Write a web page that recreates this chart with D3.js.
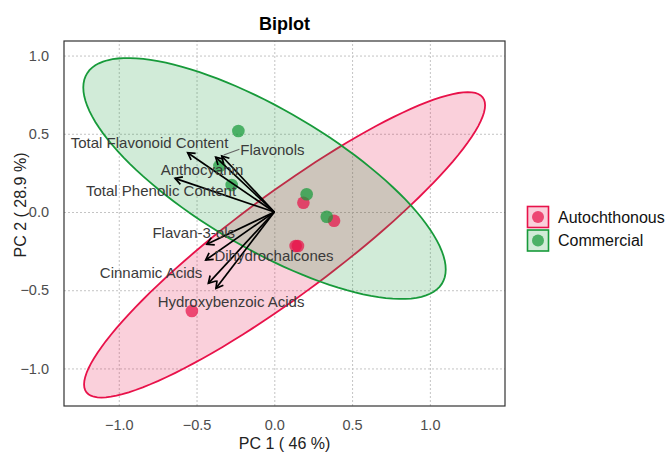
<!DOCTYPE html>
<html>
<head>
<meta charset="utf-8">
<script src="https://cdnjs.cloudflare.com/ajax/libs/d3/7.8.5/d3.min.js"></script>
<style>
  body { margin: 0; background: #fff; }
  text { font-family: "Liberation Sans", Arial, sans-serif; }
</style>
</head>
<body>
<div id="vis"></div>
<script>
// ---- data ----
const groups = ["Autochthonous", "Commercial"];
const groupColors = ["#E8124A", "#179A3A"];

// individuals (PC1, PC2)
const autoPoints = [[-0.53, -0.633], [0.187, 0.059], [0.384, -0.056], [0.137, -0.217], [0.152, -0.217]];
const commPoints = [[-0.231, 0.518], [-0.353, 0.294], [-0.274, 0.173], [0.208, 0.113], [0.337, -0.03]];

// concentration ellipses: centre x, centre y, half extent x, half extent y, correlation
const autoEllipse = [0.066, -0.21, 1.289, 0.976, 0.914];
const commEllipse = [-0.063, 0.214, 1.165, 0.770, -0.755];

// variables: arrow tip and label position
const varNames = ["Total Flavonoid Content", "Flavonols", "Anthocyanin", "Total Phenolic Content",
                  "Flavan-3-ols", "Dihydrochalcones", "Cinnamic Acids", "Hydroxybenzoic Acids"];
const varTips = [[-0.557, 0.379], [-0.338, 0.358], [-0.377, 0.35], [-0.638, 0.215],
                 [-0.434, -0.206], [-0.441, -0.307], [-0.424, -0.456], [-0.375, -0.488]];
const labelPos = [[-0.802, 0.443], [-0.012, 0.401], [-0.465, 0.273], [-0.728, 0.136],
                  [-0.518, -0.132], [-0.002, -0.275], [-0.792, -0.388], [-0.278, -0.573]];

const ticks = [-1.0, -0.5, 0.0, 0.5, 1.0];

const W = 667, H = 453;
const pLeft = 64, pRight = 505, pTop = 41, pBottom = 406;

const svg = d3.select("#vis").append("svg")
    .attr("width", W)
    .attr("height", H);

const x = d3.scaleLinear().domain([-1.352, 1.483]).range([pLeft, pRight]);
const y = d3.scaleLinear().domain([-1.24, 1.093]).range([pBottom, pTop]);

// grid
svg.append("g")
    .attr("transform", `translate(0,${pBottom})`)
    .call(d3.axisBottom(x).tickValues(ticks).tickSize(-(pBottom - pTop)).tickFormat(""))
    .call(g => g.select(".domain").remove())
    .call(g => g.selectAll("line").attr("stroke", "#c4c4c4").attr("stroke-dasharray", "2,2"));
svg.append("g")
    .attr("transform", `translate(${pLeft},0)`)
    .call(d3.axisLeft(y).tickValues(ticks).tickSize(-(pRight - pLeft)).tickFormat(""))
    .call(g => g.select(".domain").remove())
    .call(g => g.selectAll("line").attr("stroke", "#c4c4c4").attr("stroke-dasharray", "2,2"));

// ellipses
function ellipsePoints(e) {
  const [cx, cy, rx, ry, rho] = e;
  const s = Math.sqrt(1 - rho * rho);
  return d3.range(0, 360, 3).map(a => {
    const t = a * Math.PI / 180;
    return [cx + rx * Math.cos(t), cy + ry * (rho * Math.cos(t) + s * Math.sin(t))];
  });
}
const line = d3.line().x(d => x(d[0])).y(d => y(d[1])).curve(d3.curveLinearClosed);

[autoEllipse, commEllipse].forEach((e, i) => {
  svg.append("path")
      .attr("d", line(ellipsePoints(e)))
      .attr("fill", groupColors[i])
      .attr("fill-opacity", 0.2)
      .attr("stroke", groupColors[i])
      .attr("stroke-width", 1.8);
});

// points
[autoPoints, commPoints].forEach((pts, i) => {
  svg.append("g").selectAll("circle")
    .data(pts)
    .join("circle")
      .attr("cx", d => x(d[0]))
      .attr("cy", d => y(d[1]))
      .attr("r", 6.3)
      .attr("fill", groupColors[i])
      .attr("fill-opacity", 0.72);
});

// arrows
const arrows = svg.append("g").attr("stroke", "#000").attr("stroke-width", 1.7).attr("fill", "none");
varTips.forEach(d => {
  const x0 = x(0), y0 = y(0), x1 = x(d[0]), y1 = y(d[1]);
  const ang = Math.atan2(y1 - y0, x1 - x0);
  const L = 8, spread = Math.PI / 6;
  arrows.append("line").attr("x1", x0).attr("y1", y0).attr("x2", x1).attr("y2", y1);
  arrows.append("path").attr("d",
    `M${x1 - L * Math.cos(ang - spread)},${y1 - L * Math.sin(ang - spread)}L${x1},${y1}` +
    `L${x1 - L * Math.cos(ang + spread)},${y1 - L * Math.sin(ang + spread)}`);
});

// leader segment for Flavonols label
svg.append("line")
    .attr("x1", x(labelPos[1][0]) - 33).attr("y1", y(labelPos[1][1]))
    .attr("x2", x(varTips[1][0]) + 2).attr("y2", y(varTips[1][1]) - 1)
    .attr("stroke", "#666").attr("stroke-width", 1.2);

// labels
svg.append("g").selectAll("text")
  .data(varNames)
  .join("text")
    .attr("x", (d, i) => x(labelPos[i][0]))
    .attr("y", (d, i) => y(labelPos[i][1]))
    .attr("text-anchor", "middle")
    .attr("dominant-baseline", "central")
    .attr("font-size", 15)
    .attr("fill", "#3a3a3a")
    .text(d => d);

// frame
svg.append("rect")
    .attr("x", pLeft).attr("y", pTop)
    .attr("width", pRight - pLeft).attr("height", pBottom - pTop)
    .attr("fill", "none").attr("stroke", "#333").attr("stroke-width", 1.2);

// axes labels
svg.append("g")
    .attr("transform", `translate(0,${pBottom})`)
    .call(d3.axisBottom(x).tickValues(ticks).tickSize(0).tickPadding(14).tickFormat(d3.format(".1f")))
    .call(g => g.select(".domain").remove())
    .call(g => g.selectAll("text").attr("font-size", 14.5).attr("fill", "#4d4d4d")
      .style("font-family", "Liberation Sans, Arial, sans-serif"));
svg.append("g")
    .attr("transform", `translate(${pLeft},0)`)
    .call(d3.axisLeft(y).tickValues(ticks).tickSize(0).tickPadding(15).tickFormat(d3.format(".1f")))
    .call(g => g.select(".domain").remove())
    .call(g => g.selectAll("text").attr("font-size", 14.5).attr("fill", "#4d4d4d")
      .style("font-family", "Liberation Sans, Arial, sans-serif"));

svg.append("text")
    .attr("x", (pLeft + pRight) / 2).attr("y", 449)
    .attr("text-anchor", "middle").attr("font-size", 16).attr("fill", "#222")
    .text("PC 1 ( 46 %)");
svg.append("text")
    .attr("transform", "translate(26,205) rotate(-90)")
    .attr("text-anchor", "middle").attr("font-size", 16).attr("fill", "#222")
    .text("PC 2 ( 28.9 %)");

svg.append("text")
    .attr("x", 284.5).attr("y", 30)
    .attr("text-anchor", "middle").attr("font-size", 18).attr("font-weight", "bold")
    .text("Biplot");

// legend
const legend = svg.append("g").attr("transform", "translate(527,206)");
groups.forEach((g, i) => {
  const row = legend.append("g").attr("transform", `translate(0,${i * 23.5})`);
  row.append("rect").attr("x", 0.5).attr("y", 0.5).attr("width", 21).attr("height", 21)
     .attr("fill", groupColors[i]).attr("fill-opacity", 0.2)
     .attr("stroke", groupColors[i]).attr("stroke-width", 1.6);
  row.append("circle").attr("cx", 11).attr("cy", 11).attr("r", 6)
     .attr("fill", groupColors[i]).attr("fill-opacity", 0.72);
  row.append("text").attr("x", 31).attr("y", 11).attr("dominant-baseline", "central")
     .attr("font-size", 16).attr("fill", "#111").text(g);
});
</script>
</body>
</html>
